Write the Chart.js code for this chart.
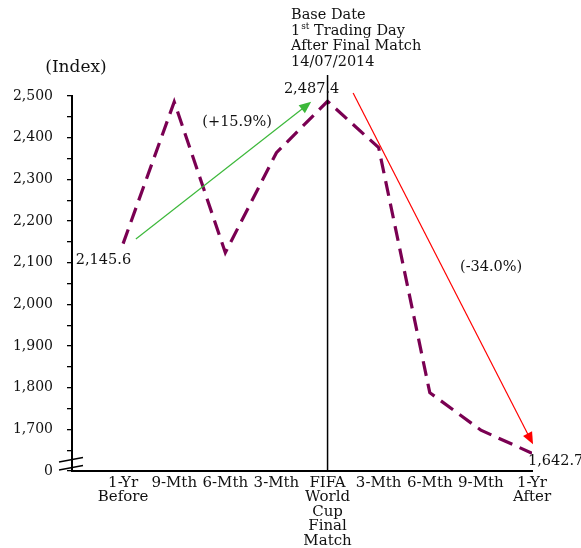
<!DOCTYPE html>
<html>
<head>
<meta charset="utf-8">
<script src="https://cdn.jsdelivr.net/npm/chart.js@4.4.1/dist/chart.umd.min.js"></script>
<style>
  html, body { margin: 0; padding: 0; background: #fff; }
  #wrap { width: 581px; height: 548px; }
</style>
</head>
<body>
<div id="wrap"><canvas id="grafico" width="581" height="548"></canvas></div>
<script>
// categorias do eixo x
const categorias = [
  ['1-Yr', 'Before'], '9-Mth', '6-Mth', '3-Mth',
  ['FIFA', 'World', 'Cup', 'Final', 'Match'],
  '3-Mth', '6-Mth', '9-Mth', ['1-Yr', 'After']
];
// valores do índice
const valores = [2145.6, 2486, 2124, 2364, 2487.4, 2376, 1788, 1698, 1642.7];
// rótulos de valor mostrados
const rotulosValor = ['2,145.6', '', '', '', '2,487.4', '', '', '', '1,642.7'];
// eixo y: o piso 1600 aparece como "0" (eixo quebrado)
const yMin = 1600;
const yMax = 2500;
const yPasso = 50;

const fonte = '"DejaVu Serif", "Liberation Serif", serif';

// setas de variação (em coordenadas dos dados)
const setaSubida = { de: [0.25, 2157], ate: [3.68, 2486], cor: '#3cb83a', texto: '(+15.9%)', pos: [2.23, 2438] };
const setaQueda = { de: [4.5, 2507], ate: [8.02, 1664], cor: '#ff0000', texto: '(-34.0%)', pos: [7.2, 2088] };

const pontos = valores.map((v, i) => ({ x: i, y: v }));

function seta(ctx, x1, y1, x2, y2, cor) {
  ctx.save();
  ctx.strokeStyle = cor;
  ctx.fillStyle = cor;
  ctx.lineWidth = 1.2;
  const ang = Math.atan2(y2 - y1, x2 - x1);
  const tam = 13;
  ctx.beginPath();
  ctx.moveTo(x1, y1);
  ctx.lineTo(x2 - Math.cos(ang) * tam * 0.8, y2 - Math.sin(ang) * tam * 0.8);
  ctx.stroke();
  ctx.beginPath();
  ctx.moveTo(x2, y2);
  ctx.lineTo(x2 - tam * Math.cos(ang - 0.4), y2 - tam * Math.sin(ang - 0.4));
  ctx.lineTo(x2 - tam * Math.cos(ang + 0.4), y2 - tam * Math.sin(ang + 0.4));
  ctx.closePath();
  ctx.fill();
  ctx.restore();
}

const anotacoes = {
  id: 'anotacoes',
  afterDatasetsDraw(chart) {
    const ctx = chart.ctx;
    const sx = chart.scales.x;
    const sy = chart.scales.y;
    const area = chart.chartArea;

    // linha vertical da data base
    const xBase = sx.getPixelForValue(4);
    ctx.save();
    ctx.strokeStyle = '#000';
    ctx.lineWidth = 1.5;
    ctx.beginPath();
    ctx.moveTo(xBase, 75);
    ctx.lineTo(xBase, area.bottom);
    ctx.stroke();

    // setas
    [setaSubida, setaQueda].forEach(s => {
      seta(ctx, sx.getPixelForValue(s.de[0]), sy.getPixelForValue(s.de[1]),
        sx.getPixelForValue(s.ate[0]), sy.getPixelForValue(s.ate[1]), s.cor);
      ctx.fillStyle = '#111';
      ctx.font = '14.5px ' + fonte;
      ctx.textAlign = 'center';
      ctx.textBaseline = 'middle';
      ctx.fillText(s.texto, sx.getPixelForValue(s.pos[0]), sy.getPixelForValue(s.pos[1]));
    });

    // rótulos dos valores
    ctx.fillStyle = '#111';
    ctx.font = '14.5px ' + fonte;
    ctx.textBaseline = 'middle';
    const meta = chart.getDatasetMeta(0).data;
    rotulosValor.forEach((t, i) => {
      if (!t) return;
      const p = meta[i];
      if (i === 0) { ctx.textAlign = 'right'; ctx.fillText(t, p.x + 8, p.y + 17); }
      else if (i === rotulosValor.length - 1) { ctx.textAlign = 'left'; ctx.fillText(t, p.x - 4, p.y + 8); }
      else { ctx.textAlign = 'center'; ctx.fillText(t, p.x - 16, p.y - 12); }
    });

    // texto da data base
    ctx.textAlign = 'left';
    ctx.font = '14.5px ' + fonte;
    const xt = 291;
    ctx.fillText('Base Date', xt, 15);
    ctx.fillText('1', xt, 31);
    const w1 = ctx.measureText('1').width;
    ctx.font = '9px ' + fonte;
    ctx.fillText('st', xt + w1 + 1, 27);
    const w2 = ctx.measureText('st').width;
    ctx.font = '14.5px ' + fonte;
    ctx.fillText(' Trading Day', xt + w1 + w2 + 1, 31);
    ctx.fillText('After Final Match', xt, 46);
    ctx.fillText('14/07/2014', xt, 62);

    // título do eixo y
    ctx.textAlign = 'center';
    ctx.font = '17px ' + fonte;
    ctx.fillText('(Index)', 76, 68);

    // marca de eixo quebrado
    ctx.strokeStyle = '#000';
    ctx.lineWidth = 1.3;
    ctx.beginPath();
    ctx.moveTo(59, 462); ctx.lineTo(83, 457.5);
    ctx.moveTo(59, 470); ctx.lineTo(83, 465.5);
    ctx.stroke();
    ctx.restore();
  }
};

new Chart(document.getElementById('grafico').getContext('2d'), {
  type: 'line',
  data: {
    datasets: [{
      data: pontos,
      borderColor: '#7a0052',
      borderWidth: 3.2,
      borderDash: [15, 8],
      pointRadius: 0,
      tension: 0,
      fill: false
    }]
  },
  options: {
    responsive: false,
    animation: false,
    layout: { padding: { left: 0, top: 96, right: 49, bottom: 0 } },
    plugins: { legend: { display: false }, tooltip: { enabled: false } },
    scales: {
      x: {
        type: 'linear',
        min: -1,
        max: categorias.length - 1,
        afterBuildTicks: (s) => { s.ticks = categorias.map((c, i) => ({ value: i })); },
        afterFit: (s) => { s.height = 77; },
        grid: { display: false, drawTicks: false },
        border: { display: true, color: '#000', width: 2 },
        ticks: {
          autoSkip: false,
          maxRotation: 0,
          padding: 5,
          color: '#111',
          font: { family: fonte, size: 15, lineHeight: 0.96 },
          callback: (v) => categorias[v] ?? ''
        }
      },
      y: {
        min: yMin,
        max: yMax,
        afterFit: (s) => { s.width = 72; },
        grid: { display: true, drawOnChartArea: false, drawTicks: true, tickLength: 5, color: '#000', lineWidth: 1.3 },
        border: { display: true, color: '#000', width: 2 },
        ticks: {
          stepSize: yPasso,
          autoSkip: false,
          padding: 14,
          color: '#111',
          font: { family: fonte, size: 14 },
          callback: (v) => v === yMin ? '0' : (v % 100 === 0 ? v.toLocaleString('en-US') : '')
        }
      }
    }
  },
  plugins: [anotacoes]
});
</script>
</body>
</html>
